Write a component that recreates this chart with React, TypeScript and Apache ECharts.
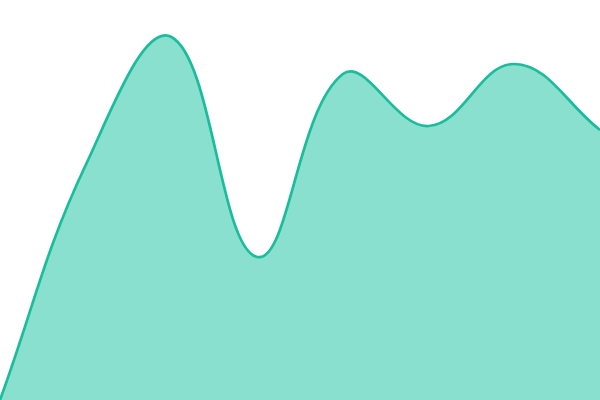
import React, { useEffect, useRef } from 'react'
import * as echarts from 'echarts'

const categories = ['1', '2', '3', '4', '5', '6', '7', '8']
const values = [0, 235, 363, 143, 326, 274, 336, 270]

const TENSION = 0.4
const LINE_COLOR = '#1abc9c'
const AREA_COLOR = '#8ae0cf'

// cardinal-style spline through the points, control points capped to the grid
const buildPath = (pts: number[][], area: { x: number; y: number; width: number; height: number }, closeTo?: number) => {
  const clampX = (v: number) => Math.min(Math.max(v, area.x), area.x + area.width)
  const clampY = (v: number) => Math.min(Math.max(v, area.y), area.y + area.height)
  const cps = pts.map((p, i) => {
    const prev = pts[i - 1] || p
    const next = pts[i + 1] || p
    const d01 = Math.hypot(p[0] - prev[0], p[1] - prev[1])
    const d12 = Math.hypot(next[0] - p[0], next[1] - p[1])
    const total = d01 + d12 || 1
    const fa = (TENSION * d01) / total
    const fb = (TENSION * d12) / total
    return {
      prev: [clampX(p[0] - fa * (next[0] - prev[0])), clampY(p[1] - fa * (next[1] - prev[1]))],
      next: [clampX(p[0] + fb * (next[0] - prev[0])), clampY(p[1] + fb * (next[1] - prev[1]))]
    }
  })
  let d = `M${pts[0][0]},${pts[0][1]}`
  for (let i = 1; i < pts.length; i++) {
    const c1 = cps[i - 1].next
    const c2 = cps[i].prev
    d += ` C${c1[0]},${c1[1]} ${c2[0]},${c2[1]} ${pts[i][0]},${pts[i][1]}`
  }
  if (closeTo !== undefined) {
    d += ` L${pts[pts.length - 1][0]},${closeTo} L${pts[0][0]},${closeTo} Z`
  }
  return d
}

const App: React.FC = () => {
  const containerRef = useRef<HTMLDivElement>(null)

  useEffect(() => {
    document.body.style.margin = '0'
    if (!containerRef.current) return
    const chart = echarts.init(containerRef.current, undefined, { renderer: 'svg' })

    chart.setOption({
      animation: false,
      backgroundColor: '#ffffff',
      grid: { left: 0, right: 0, top: 0, bottom: 0 },
      xAxis: {
        type: 'category',
        data: categories,
        boundaryGap: false,
        show: false
      },
      yAxis: {
        type: 'value',
        min: 0,
        max: 400,
        show: false
      },
      series: [
        {
          type: 'custom',
          data: [[0, values[0]]],
          clip: true,
          renderItem: (params: any, api: any) => {
            const area = params.coordSys
            const pts = values.map((v, i) => api.coord([i, v]))
            const base = api.coord([0, 0])[1]
            return {
              type: 'group',
              children: [
                {
                  type: 'path',
                  shape: { pathData: buildPath(pts, area, base) },
                  style: { fill: AREA_COLOR, stroke: 'none' }
                },
                {
                  type: 'path',
                  shape: { pathData: buildPath(pts, area) },
                  style: { fill: 'none', stroke: LINE_COLOR, lineWidth: 2.7 }
                }
              ]
            }
          }
        }
      ]
    })

    return () => {
      chart.dispose()
    }
  }, [])

  return <div ref={containerRef} style={{ width: 600, height: 400 }} />
}

export default App
